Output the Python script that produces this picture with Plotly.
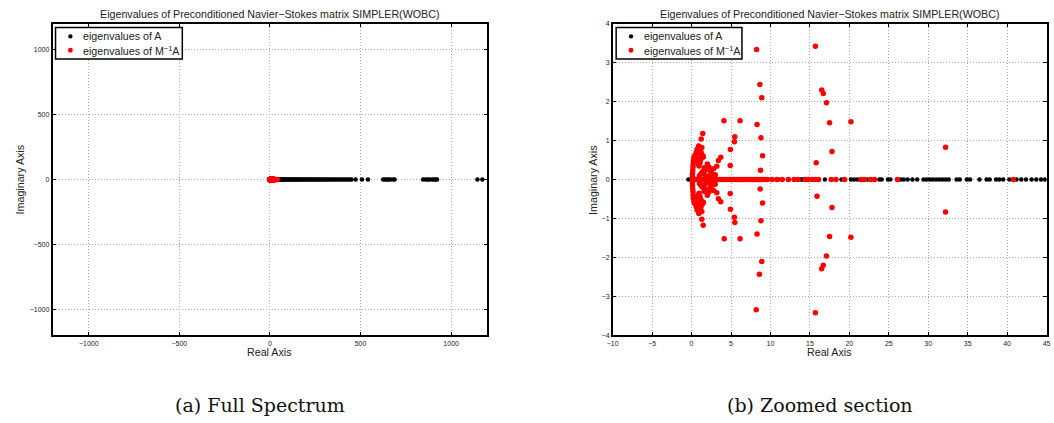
import plotly.graph_objects as go

# ---------------- data ----------------
# eigenvalues of A (all real)
eig_A_re = [-0.4, 0.3, 0.4, 0.5, 0.6, 0.7, 0.8, 0.9, 1.0, 1.5, 2.2, 3.1, 4.0, 5.2, 6.3, 7.5, 8.4,
            9.7, 11.0, 12.2, 13.9, 14.0, 16.9, 19.0, 20.2, 20.6, 21.0, 21.4, 21.8, 22.3, 23.8, 24.1,
            24.9, 25.2, 26.5, 26.9, 27.4, 28.0, 28.6, 29.4, 29.8, 30.2, 30.6, 31.0, 31.4, 31.8, 32.2,
            32.6, 33.6, 34.0, 34.9, 35.3, 36.5, 37.4, 37.8, 38.6, 39.0, 39.5, 40.3, 41.2, 41.8, 42.4,
            43.1, 43.7, 44.3, 44.8, 46, 48.5, 51, 55, 58, 62, 66, 71, 75, 80, 86, 91, 97, 103, 108,
            115, 121, 128, 134, 140, 147, 153, 160, 167, 173, 180, 188, 195, 203, 210, 218, 226, 233,
            241, 250, 258, 266, 275, 283, 292, 301, 310, 319, 328, 338, 347, 357, 367, 377, 387, 398,
            409, 420, 430, 440, 450, 473, 508, 541, 625, 635, 645, 655, 665, 680, 688, 845, 858, 870,
            880, 895, 905, 915, 922, 1145, 1172]
eig_A_im = [0.0] * len(eig_A_re)

# eigenvalues of M^-1 A : real ones
eig_M_real_re = [0.1, 0.2, 0.35, 0.5, 0.65, 0.8, 0.95, 1.1, 1.25, 1.4, 1.6, 1.8, 2.0, 2.2, 2.4, 2.6,
                 2.8, 3.0, 3.3, 3.6, 3.9, 4.2, 4.5, 4.8, 5.1, 5.4, 5.7, 6.0, 6.3, 6.6, 6.9, 7.2, 7.5,
                 7.8, 8.1, 8.4, 8.7, 9.0, 9.3, 9.6, 10.2, 10.8, 11.5, 12.3, 13.0, 13.5, 14.4, 14.8,
                 15.3, 15.7, 16.1, 17.7, 18.3, 19.4, 21.5, 21.9, 22.7, 23.2, 26.1, 40.8]
eig_M_real_im = [0.0] * len(eig_M_real_re)

# eigenvalues of M^-1 A : complex ones, upper half plane
eig_M_up_re = [0.1, 0.12, 0.15, 0.18, 0.2, 0.22, 0.3, 0.35, 0.45, 0.55, 0.65, 0.75, 0.85, 0.95,
               1.05, 1.15, 1.25, 1.4, 1.5, 0.6, 0.8, 1.0, 1.2, 0.9, 1.22, 1.42, 0.7, 1.3,
               1.6, 1.8, 2.0, 2.2, 2.4, 2.6, 2.8, 3.0, 1.7, 2.1, 2.5, 1.4, 1.2, 1.0,
               3.2, 3.4, 3.7, 4.9, 4.93, 5.43, 5.48, 4.1, 6.15, 8.3, 8.8, 9.0, 8.74, 8.66, 8.9,
               8.24, 15.7, 16.5, 16.7, 17.1, 17.5, 20.2, 17.8, 15.8, 32.2]
eig_M_up_im = [0.08, 0.16, 0.24, 0.32, 0.4, 0.48, 0.55, 0.6, 0.62, 0.58, 0.52, 0.45, 0.4, 0.35,
               0.42, 0.5, 0.56, 0.62, 0.58, 0.7, 0.68, 0.66, 0.7, 0.86, 1.04, 1.18, 0.78, 0.82,
               0.3, 0.25, 0.4, 0.32, 0.2, 0.15, 0.28, 0.12, 0.12, 0.08, 0.05, 0.2, 0.15, 0.1,
               0.34, 0.49, 0.57, 0.36, 0.77, 0.97, 1.1, 1.51, 1.51, 1.41, 1.07, 0.61, 0.24, 2.44, 2.1,
               3.34, 3.42, 2.3, 2.21, 1.97, 1.46, 1.48, 0.72, 0.43, 0.83]

# eigenvalues of M^-1 A : complex ones, lower half plane
eig_M_lo_re = [0.1, 0.12, 0.15, 0.18, 0.2, 0.22, 0.3, 0.35, 0.45, 0.55, 0.65, 0.75, 0.85, 0.95,
               1.05, 1.15, 1.25, 1.4, 1.5, 0.6, 0.8, 1.0, 1.2, 0.92, 1.3, 1.47, 0.7, 1.3,
               1.6, 1.8, 2.0, 2.2, 2.4, 2.6, 2.8, 3.0, 1.7, 2.1, 2.5, 1.4, 1.2, 1.0,
               3.2, 3.4, 3.7, 4.9, 4.93, 5.43, 5.48, 4.14, 6.15, 8.3, 8.8, 9.0, 8.7, 8.6, 8.9,
               8.2, 15.7, 16.5, 16.7, 17.1, 17.5, 20.2, 17.8, 15.9, 32.2]
eig_M_lo_im = [-0.08, -0.16, -0.24, -0.32, -0.4, -0.48, -0.55, -0.6, -0.62, -0.58, -0.52, -0.45,
               -0.4, -0.35, -0.42, -0.5, -0.56, -0.62, -0.58, -0.7, -0.68, -0.66, -0.7, -0.87,
               -1.02, -1.17, -0.78, -0.82, -0.3, -0.25, -0.4, -0.32, -0.2, -0.15, -0.28, -0.12,
               -0.12, -0.08, -0.05, -0.2, -0.15, -0.1, -0.34, -0.49, -0.57, -0.36, -0.76, -0.97,
               -1.1, -1.52, -1.52, -1.4, -1.06, -0.6, -0.24, -2.43, -2.1, -3.34, -3.42, -2.29,
               -2.2, -1.96, -1.46, -1.48, -0.72, -0.43, -0.83]

x_ticks_full = [-1000, -500, 0, 500, 1000]
y_ticks_full = [-1000, -500, 0, 500, 1000]
x_ticks_zoom = [-10, -5, 0, 5, 10, 15, 20, 25, 30, 35, 40, 45]
y_ticks_zoom = [-4, -3, -2, -1, 0, 1, 2, 3, 4]

title_text = "Eigenvalues of Preconditioned Navier\u2212Stokes matrix SIMPLER(WOBC)"
legend_names = ["eigenvalues of A", "eigenvalues of M<sup>\u22121</sup>A"]
captions = ["(a) Full Spectrum", "(b) Zoomed section"]

# ---------------- figure ----------------
W, H = 1054, 423
M_re = eig_M_real_re + eig_M_up_re + eig_M_lo_re
M_im = eig_M_real_im + eig_M_up_im + eig_M_lo_im
COL_A, COL_M = "black", "#ff0000"

fig = go.Figure()
for xa, ya in [("x", "y"), ("x2", "y2")]:
    fig.add_trace(go.Scatter(x=eig_A_re, y=eig_A_im, mode="markers", name=legend_names[0],
                             marker=dict(color=COL_A, size=4.5), xaxis=xa, yaxis=ya,
                             showlegend=False))
    fig.add_trace(go.Scatter(x=M_re, y=M_im, mode="markers", name=legend_names[1],
                             marker=dict(color=COL_M, size=5.5), xaxis=xa, yaxis=ya,
                             showlegend=False))

ax_common = dict(ticks="inside", ticklen=4, tickwidth=1, tickcolor="black",
                 showline=True, linewidth=1.5, linecolor="black", mirror="allticks",
                 showgrid=True, gridcolor="#a8a8a8", griddash="1px,2px", gridwidth=1,
                 zeroline=False, tickfont=dict(size=7, color="#222"))


def px(x):
    return x / W


def py(y):
    return 1 - y / H


L1, R1, L2, R2, T, B = 47, 486, 612.5, 1050.5, 20, 337
FS = 10.7

fig.update_layout(
    width=W, height=H, autosize=False,
    margin=dict(l=0, r=0, t=0, b=0),
    paper_bgcolor="white", plot_bgcolor="white",
    font=dict(family="Liberation Sans, Arial, sans-serif", color="#222"),
    xaxis=dict(domain=[px(L1), px(R1)], range=[-1200, 1200], tickvals=x_ticks_full, anchor="y", **ax_common),
    yaxis=dict(domain=[py(B), py(T)], range=[-1200, 1200], tickvals=y_ticks_full, anchor="x", **ax_common),
    xaxis2=dict(domain=[px(L2), px(R2)], range=[-10, 45], tickvals=x_ticks_zoom, anchor="y2",
                ticklabeloverflow="allow", **ax_common),
    yaxis2=dict(domain=[py(B), py(T)], range=[-4, 4], tickvals=y_ticks_zoom, anchor="x2", **ax_common),
    showlegend=False,
)

ann = []
shapes = []
for cx, cap_x, ylab_x, cap in [((L1 + R1) / 2, 256, 14, captions[0]),
                               ((L2 + R2) / 2, 822, 592, captions[1])]:
    ann.append(dict(text=title_text, x=px(cx), y=py(10), xref="paper", yref="paper",
                    showarrow=False, font=dict(size=FS), xanchor="center", yanchor="middle"))
    ann.append(dict(text="Real Axis", x=px(cx), y=py(354), xref="paper", yref="paper",
                    showarrow=False, font=dict(size=FS), xanchor="center", yanchor="middle"))
    ann.append(dict(text="Imaginary Axis", x=px(ylab_x), y=py((T + B) / 2), xref="paper", yref="paper",
                    showarrow=False, font=dict(size=FS), textangle=-90, xanchor="center", yanchor="middle"))
    ann.append(dict(text=cap, x=px(cap_x), y=py(408), xref="paper", yref="paper", showarrow=False,
                    font=dict(size=19, family="DejaVu Serif", color="#111"),
                    xanchor="center", yanchor="middle"))

# hand-drawn legend boxes (MATLAB style, compact rows)
for bx0, bx1 in [(50, 178), (616, 743)]:
    shapes.append(dict(type="rect", xref="paper", yref="paper", x0=px(bx0), x1=px(bx1),
                       y0=py(56), y1=py(24), line=dict(color="black", width=1.5),
                       fillcolor="white", layer="above"))
    for name, col, ry, r in [(legend_names[0], COL_A, 33, 2.2), (legend_names[1], COL_M, 47, 2.5)]:
        mx = bx0 + 15
        shapes.append(dict(type="circle", xref="paper", yref="paper",
                           x0=px(mx - r), x1=px(mx + r), y0=py(ry + r), y1=py(ry - r),
                           fillcolor=col, line=dict(color=col, width=0), layer="above"))
        ann.append(dict(text=name, x=px(bx0 + 26), y=py(ry), xref="paper", yref="paper",
                        showarrow=False, font=dict(size=FS), xanchor="left", yanchor="middle"))

fig.update_layout(annotations=ann, shapes=shapes)

fig.write_html("out.html")
